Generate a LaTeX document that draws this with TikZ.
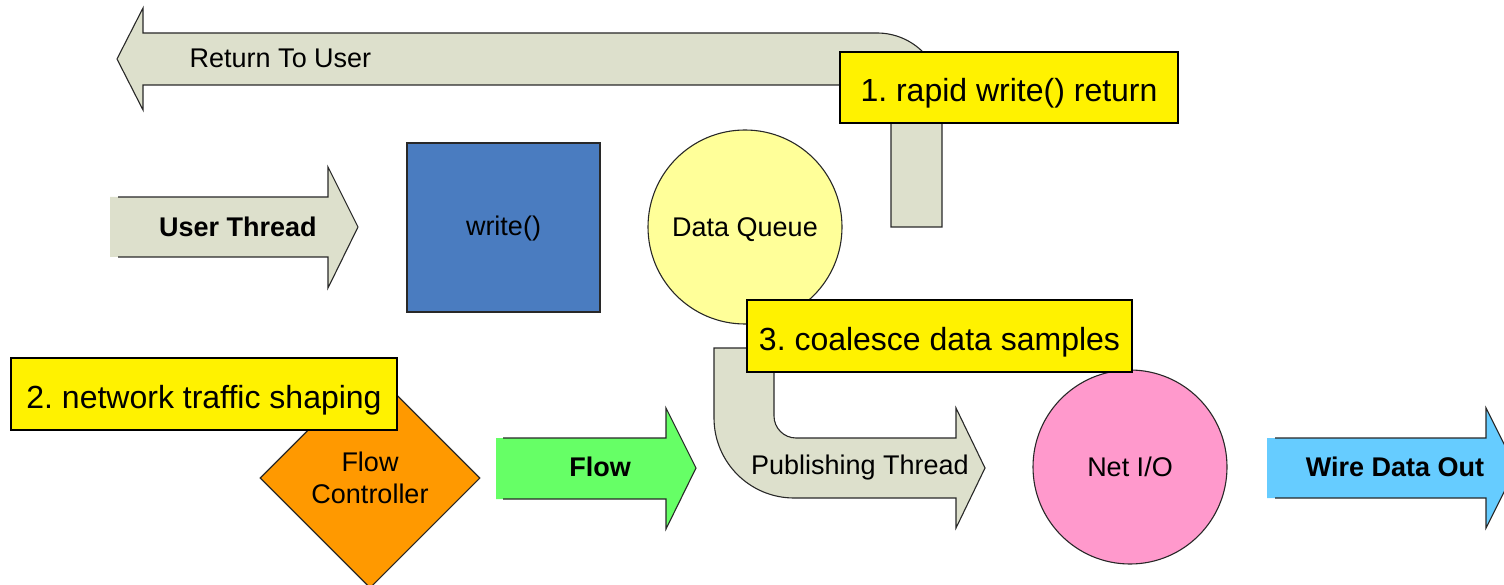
\documentclass[tikz,border=0pt]{standalone}
\usepackage{fontspec}
\setmainfont{Liberation Sans}
\usetikzlibrary{shapes.geometric}
\frenchspacing
\definecolor{pathgray}{RGB}{221,224,204}
\definecolor{writeblue}{RGB}{74,124,192}
\definecolor{queueyellow}{RGB}{255,255,153}
\definecolor{netpink}{RGB}{255,153,204}
\definecolor{flowgreen}{RGB}{102,255,102}
\definecolor{wireblue}{RGB}{102,204,255}
\definecolor{ctrlorange}{RGB}{255,153,0}
\definecolor{edge}{RGB}{40,40,40}
\tikzset{
  outline/.style={draw=edge, line width=1.1pt, line join=miter},
  lbl/.style={font=\fontsize{27}{32}\selectfont, inner sep=0pt, align=center},
  onelbl/.style={lbl, text height=19.4pt, text depth=0pt},
  boldlbl/.style={onelbl, font=\fontsize{27}{32}\selectfont\bfseries},
  note/.style={draw=black, line width=2pt, fill=yellow, inner sep=0pt,
    font=\fontsize{32}{38}\selectfont, text height=28pt, text depth=0pt},
  blob/.style={circle, outline, minimum size=194pt, inner sep=0pt, onelbl}
}
\begin{document}
\begin{tikzpicture}[x=1pt,y=-1pt]
\useasboundingbox (0,0) rectangle (1504,585);

% bent arrow returning to the user
\path[fill=pathgray, outline]
  (891,227) -- (891,97) .. controls (891,90.4) and (884.4,85) .. (879,85)
  -- (143,85) -- (143,110) -- (117,59) -- (143,8) -- (143,33)
  -- (877,33) .. controls (912.9,33) and (942,62.1) .. (942,98)
  -- (942,227) -- cycle;
\node[onelbl] (ret) at (280.5,58) {Return To User};

% user thread arrow
\fill[pathgray] (110,197) -- (328,197) -- (328,167) -- (358,227) -- (328,288) -- (328,257) -- (110,257) -- cycle;
\draw[outline] (118,197) -- (328,197) -- (328,167) -- (358,227) -- (328,288) -- (328,257) -- (118,257);
\node[boldlbl] (ut) at (238,227) {User Thread};

% write() call
\node[rectangle, outline, fill=writeblue, minimum width=193pt, minimum height=169pt, inner sep=0pt, lbl, text height=16.4pt, text depth=0pt] (wr) at (503.5,227.5) {write()};

% data queue
\node[blob, fill=queueyellow] (dq) at (745,227) {Data Queue};

% publishing thread bent arrow
\path[fill=pathgray, outline]
  (774,348) -- (774,416) .. controls (774,428.1) and (783.9,438) .. (796,438)
  -- (956,438) -- (956,408) -- (985,468) -- (956,528) -- (956,498)
  -- (794,498) .. controls (749.8,498) and (714,462.2) .. (714,418)
  -- (714,348) -- cycle;
\node[onelbl] (pt) at (860,465) {Publishing Thread};

% flow controller
\node[diamond, aspect=1, outline, fill=ctrlorange, minimum width=220pt, minimum height=220pt, inner sep=0pt, lbl] (fc) at (370,478) {Flow\\Controller};

% flow arrow
\fill[flowgreen] (496,438) -- (666,438) -- (666,408) -- (696,468) -- (666,529) -- (666,499) -- (496,499) -- cycle;
\draw[outline] (503,438) -- (666,438) -- (666,408) -- (696,468) -- (666,529) -- (666,499) -- (503,499);
\node[boldlbl] (fl) at (600,467) {Flow};

% network I/O
\node[blob, fill=netpink] (nio) at (1130,467) {Net I/O};

% wire data out arrow
\fill[wireblue] (1267,438) -- (1486,438) -- (1486,408) -- (1516,468) -- (1486,528) -- (1486,498) -- (1267,498) -- cycle;
\draw[outline] (1275,438) -- (1486,438) -- (1486,408) -- (1516,468) -- (1486,528) -- (1486,498) -- (1275,498);
\node[boldlbl] (wd) at (1395,467) {Wire Data Out};

% numbered notes
\node[note, minimum width=338pt, minimum height=71pt] (n1) at (1009,87.5) {1. rapid write() return};
\node[note, minimum width=386pt, minimum height=72pt] (n2) at (204,394) {2. network traffic shaping};
\node[note, minimum width=385pt, minimum height=72pt] (n3) at (939.5,336) {3. coalesce data samples};
\end{tikzpicture}
\end{document}
